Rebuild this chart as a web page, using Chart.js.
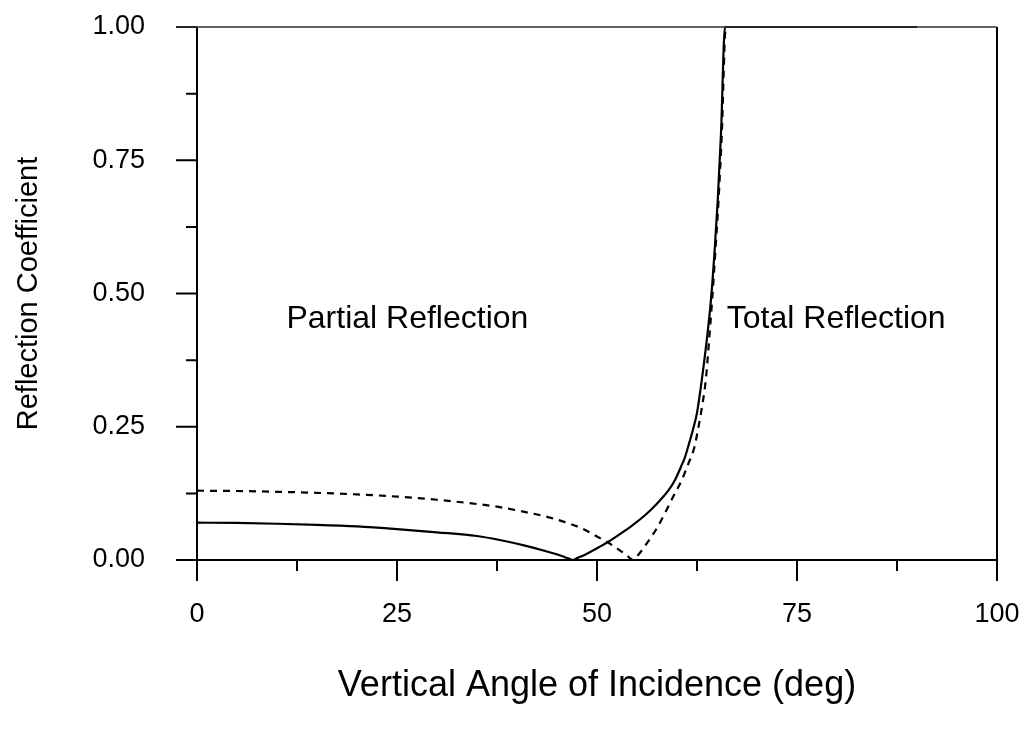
<!DOCTYPE html>
<html>
<head>
<meta charset="utf-8">
<script src="https://cdn.jsdelivr.net/npm/chart.js@4"></script>
<style>
  html, body { margin: 0; padding: 0; background: #fff; }
  #wrap { width: 1024px; height: 739px; }
</style>
</head>
<body>
<div id="wrap"><canvas id="chart"></canvas></div>
<script>
// angles (deg) and reflection coefficients
const solidAngles = [0, 5, 10, 15, 20, 25, 30, 35, 38, 41, 43.75, 45.5, 46.4, 47, 47.6, 48.5, 50, 51.6, 53, 54.5, 56, 57, 58, 59, 59.75, 60.5, 61, 61.4, 62, 62.5, 63.1, 63.7, 64.25, 64.7, 65.1, 65.5, 66, 90]
const solidValues = [0.070, 0.0695, 0.068, 0.066, 0.063, 0.058, 0.052, 0.045, 0.037, 0.027, 0.016, 0.008, 0.003, 0.0, 0.004, 0.010, 0.022, 0.036, 0.050, 0.066, 0.084, 0.098, 0.114, 0.132, 0.150, 0.175, 0.193, 0.213, 0.245, 0.276, 0.338, 0.41, 0.489, 0.58, 0.677, 0.80, 1.0, 1.0]

const dashedAngles = [0, 5, 10, 15, 20, 25, 30, 35, 37.5, 40, 43.75, 45.8, 48, 50, 52, 53.5, 54, 54.5, 55, 55.5, 56.4, 57.5, 58.5, 59.5, 60.6, 61.4, 62.2, 62.6, 63.0, 63.6, 64.0, 64.4, 64.8, 65.2, 65.6, 66.1, 90]
const dashedValues = [0.130, 0.1295, 0.128, 0.126, 0.123, 0.119, 0.113, 0.105, 0.100, 0.093, 0.081, 0.072, 0.060, 0.044, 0.027, 0.011, 0.005, 0.0, 0.007, 0.016, 0.035, 0.060, 0.088, 0.118, 0.150, 0.180, 0.213, 0.243, 0.276, 0.338, 0.41, 0.489, 0.58, 0.677, 0.80, 1.0, 1.0]

const noteTexts = ["Partial Reflection", "Total Reflection"]
const noteAngles = [26.3, 79.9]
const noteValues = [0.451, 0.451]

const xTitle = "Vertical Angle of Incidence (deg)"
const yTitle = "Reflection Coefficient"

const FONT = "'Liberation Sans', Arial, Helvetica, sans-serif"

function toPoints(xs, ys){
    return xs.map((x, i) => ({x: x, y: ys[i]}))
}

function noScalePadding(scale){
    scale.paddingTop = 0
    scale.paddingBottom = 0
    scale.paddingLeft = 0
    scale.paddingRight = 0
}

// axes frame, major + minor ticks, and the two region labels
const framePlugin = {
    id: "frame",
    afterDatasetsDraw(chart){
        const ctx = chart.ctx
        const xs = chart.scales.x
        const ys = chart.scales.y
        const {left, right, top, bottom} = chart.chartArea
        ctx.save()
        ctx.strokeStyle = "#000"
        ctx.lineWidth = 2
        ctx.lineCap = "butt"

        ctx.beginPath()
        // left axis and bottom axis
        ctx.moveTo(left, top); ctx.lineTo(left, bottom + 21)
        ctx.moveTo(left - 21, bottom); ctx.lineTo(right, bottom)
        // right border
        ctx.moveTo(right, top); ctx.lineTo(right, bottom + 21)
        // y ticks
        for (let v = 0; v <= 1.0001; v += 0.125){
            const py = ys.getPixelForValue(v)
            const major = Math.abs(v / 0.25 - Math.round(v / 0.25)) < 1e-6
            ctx.moveTo(left - (major ? 21 : 11), py); ctx.lineTo(left, py)
        }
        // x ticks
        for (let v = 0; v <= 100.001; v += 12.5){
            const px = xs.getPixelForValue(v)
            const major = Math.abs(v / 25 - Math.round(v / 25)) < 1e-6
            ctx.moveTo(px, bottom); ctx.lineTo(px, bottom + (major ? 21 : 11))
        }
        ctx.stroke()

        // top border, a bit lighter
        ctx.strokeStyle = "#333"
        ctx.lineWidth = 1.6
        ctx.beginPath()
        ctx.moveTo(left - 21, top); ctx.lineTo(right, top)
        ctx.stroke()

        ctx.fillStyle = "#000"
        ctx.font = "32px " + FONT
        ctx.textAlign = "center"
        ctx.textBaseline = "middle"
        for (let i = 0; i < noteTexts.length; i++){
            ctx.fillText(noteTexts[i], xs.getPixelForValue(noteAngles[i]), ys.getPixelForValue(noteValues[i]))
        }
        ctx.restore()
    }
}

const chart = new Chart(document.getElementById("chart"), {
    type: "line",
    data: {
        datasets: [{
            data: toPoints(solidAngles, solidValues),
            borderColor: "#000",
            borderWidth: 2.2,
            pointRadius: 0,
            cubicInterpolationMode: "monotone",
            fill: false,
            clip: false
        }, {
            data: toPoints(dashedAngles, dashedValues),
            borderColor: "#000",
            borderWidth: 2.2,
            borderDash: [7, 6],
            pointRadius: 0,
            cubicInterpolationMode: "monotone",
            fill: false,
            clip: false
        }]
    },
    options: {
        responsive: true,
        maintainAspectRatio: false,
        animation: false,
        layout: { padding: { top: 27, right: 27, left: 0, bottom: 0 } },
        plugins: { legend: { display: false }, tooltip: { enabled: false } },
        scales: {
            x: {
                type: "linear",
                min: 0,
                max: 100,
                grid: { display: false, drawTicks: false },
                border: { display: false },
                ticks: {
                    stepSize: 25,
                    padding: 38,
                    color: "#000",
                    maxRotation: 0,
                    font: { family: FONT, size: 27 }
                },
                title: {
                    display: true,
                    text: xTitle,
                    color: "#000",
                    font: { family: FONT, size: 36 },
                    padding: { top: 0, bottom: 31 }
                },
                afterFit(scale){
                    scale.height = 179
                    noScalePadding(scale)
                }
            },
            y: {
                min: 0,
                max: 1,
                grid: { display: false, drawTicks: false },
                border: { display: false },
                ticks: {
                    stepSize: 0.25,
                    padding: 52,
                    color: "#000",
                    font: { family: FONT, size: 27 },
                    callback: v => v.toFixed(2)
                },
                title: {
                    display: true,
                    text: yTitle,
                    color: "#000",
                    font: { family: FONT, size: 29 },
                    padding: { top: 12, bottom: 0 }
                },
                afterFit(scale){
                    scale.width = 197
                    noScalePadding(scale)
                }
            }
        }
    },
    plugins: [framePlugin]
})
</script>
</body>
</html>
